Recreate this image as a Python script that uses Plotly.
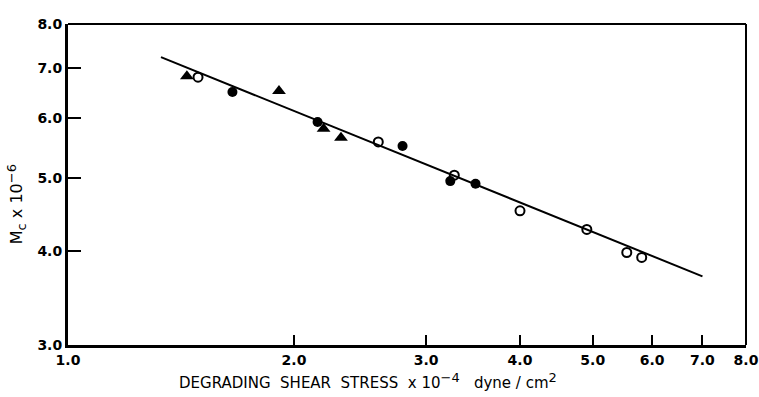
import math
import plotly.graph_objects as go

# Shear stress (x 10^-4 dyne/cm^2) and critical molecular weight (x 10^-6)
tri_x = [1.44, 1.91, 2.19, 2.31]
tri_y = [6.82, 6.52, 5.81, 5.65]

filled_x = [1.656, 2.15, 2.79, 3.23, 3.49]
filled_y = [6.50, 5.93, 5.51, 4.95, 4.91]

open_x = [1.49, 2.59, 3.27, 4.00, 4.91, 5.55, 5.81]
open_y = [6.80, 5.58, 5.04, 4.52, 4.27, 3.98, 3.92]

fit_x = [1.33, 7.0]
fit_y = [7.23, 3.70]

x_ticks = [1, 2, 3, 4, 5, 6, 7, 8]
x_labels = ["1.0", "2.0", "3.0", "4.0", "5.0", "6.0", "7.0", "8.0"]
y_ticks = [3, 4, 5, 6, 7, 8]
y_labels = ["3.0", "4.0", "5.0", "6.0", "7.0", "8.0"]

TICK_FONT = dict(family="DejaVu Sans, sans-serif", size=14, color="black",
                 weight="bold")
TITLE_FONT = dict(family="DejaVu Sans, sans-serif", size=15, color="black")

fig = go.Figure()

fig.add_trace(go.Scatter(
    x=fit_x, y=fit_y, mode="lines",
    line=dict(color="black", width=2), showlegend=False, hoverinfo="skip"))

fig.add_trace(go.Scatter(
    x=tri_x, y=tri_y, mode="markers",
    marker=dict(symbol="triangle-up", size=12, color="black"),
    showlegend=False))

fig.add_trace(go.Scatter(
    x=filled_x, y=filled_y, mode="markers",
    marker=dict(symbol="circle", size=10, color="black"),
    showlegend=False))

fig.add_trace(go.Scatter(
    x=open_x, y=open_y, mode="markers",
    marker=dict(symbol="circle-open", size=9, color="black",
                line=dict(width=2, color="black")),
    showlegend=False))

fig.update_xaxes(
    type="log", range=[0, math.log10(8)],
    tickvals=x_ticks, ticktext=x_labels,
    ticks="inside", ticklen=10, tickwidth=1.5, tickcolor="black",
    showline=True, linewidth=3, linecolor="black",
    showgrid=False, zeroline=False, automargin=False,
    tickfont=TICK_FONT)

fig.update_yaxes(
    type="log", range=[math.log10(3), math.log10(8)],
    tickvals=y_ticks, ticktext=y_labels,
    ticks="inside", ticklen=13, tickwidth=1.5, tickcolor="black",
    showline=True, linewidth=3, linecolor="black",
    showgrid=False, zeroline=False, automargin=False,
    tickfont=TICK_FONT)

# thinner top and right frame lines
fig.add_shape(type="line", xref="paper", yref="paper",
              x0=0, x1=1, y0=1, y1=1, line=dict(color="black", width=2))
fig.add_shape(type="line", xref="paper", yref="paper",
              x0=1, x1=1, y0=0, y1=1, line=dict(color="black", width=2))

fig.add_annotation(
    text=("DEGRADING  SHEAR  STRESS  x 10"
          "<sup><span style='font-size:13px'>−4</span></sup>"
          "   dyne / cm<sup><span style='font-size:13px'>2</span></sup>"),
    xref="paper", yref="paper", x=0.443, y=-0.112,
    xanchor="center", yanchor="middle", showarrow=False,
    font=TITLE_FONT)

fig.add_annotation(
    text=("M<sub><span style='font-size:13px'>c</span></sub> x 10"
          "<sup><span style='font-size:13px'>−6</span></sup>"),
    xref="paper", yref="paper", x=-0.076, y=0.44,
    xanchor="center", yanchor="middle", textangle=-90, showarrow=False,
    font=dict(family="DejaVu Sans, sans-serif", size=16, color="black"))

fig.update_layout(
    width=759, height=397,
    margin=dict(l=68, r=13, t=24, b=52),
    paper_bgcolor="white", plot_bgcolor="white",
    showlegend=False)

fig.write_html("out.html")
